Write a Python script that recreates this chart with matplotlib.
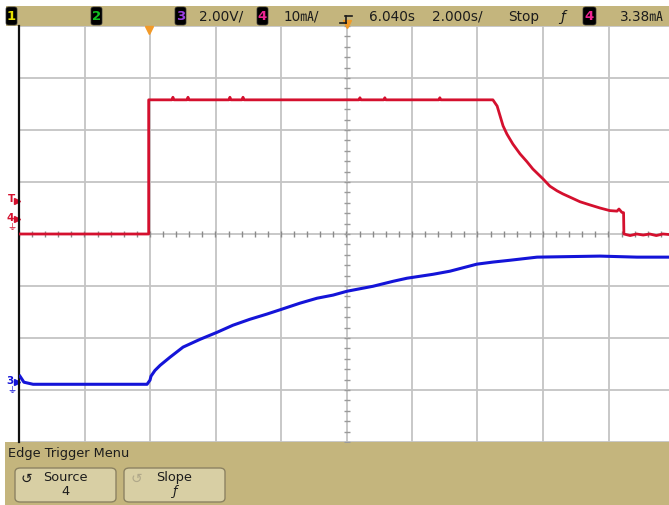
import numpy as np
import matplotlib
matplotlib.use("Agg")
import matplotlib.pyplot as plt
from matplotlib.patches import Rectangle, FancyBboxPatch
from matplotlib.transforms import blended_transform_factory

# ---------------- data ----------------
# Channel 4 (red), current in mA, time in s
ch4_t = [-3.96, 0.0, 0.0,
         0.71, 0.74, 0.77, 1.17, 1.20, 1.23, 2.45, 2.48, 2.51, 2.85, 2.88, 2.91,
         6.42, 6.45, 6.48, 7.18, 7.21, 7.24, 8.86, 8.89, 8.92,
         10.51, 10.64, 10.73, 10.82, 10.94, 11.12, 11.34, 11.55,
         11.73, 12.04, 12.25, 12.47, 12.65, 12.86, 13.17, 13.47, 13.78, 14.08, 14.30,
         14.36, 14.45, 14.50, 14.51, 14.7, 14.9, 15.1, 15.3, 15.5, 15.7, 15.89]
ch4_ma = [-2.9, -2.9, 22.9,
          22.9, 23.4, 22.9, 22.9, 23.4, 22.9, 22.9, 23.4, 22.9, 22.9, 23.4, 22.9,
          22.9, 23.3, 22.9, 22.9, 23.3, 22.9, 22.9, 23.3, 22.9,
          22.9, 21.7, 19.8, 17.9, 16.3, 14.4, 12.5, 11.0,
          9.6, 7.7, 6.3, 5.4, 4.8, 4.2, 3.3, 2.7, 2.1, 1.6, 1.5,
          1.9, 1.25, 1.2, -2.9, -3.2, -2.9, -3.1, -2.9, -3.2, -2.9, -3.0]
# Channel 3 (blue), voltage in V
ch3_t = [-3.93, -3.81, -3.53, -0.05, 0.04, 0.07, 0.19, 0.35, 0.65, 1.05, 1.57, 2.09,
         2.57, 3.09, 3.61, 4.07, 4.62, 5.14, 5.63, 6.06, 6.85, 7.46, 7.89, 8.68, 9.20,
         10.02, 10.51, 11.03, 11.86, 13.78, 14.91, 15.89]
ch3_v = [0.23, 0.0, -0.08, -0.08, 0.08, 0.23, 0.45, 0.65, 0.96, 1.35, 1.65, 1.92,
         2.19, 2.42, 2.62, 2.81, 3.04, 3.23, 3.35, 3.50, 3.69, 3.88, 4.00, 4.15, 4.27,
         4.54, 4.62, 4.69, 4.81, 4.85, 4.81, 4.81]

CH3_SCALE, CH3_OFFSET = 2.0, -2.85    # V/div, ground position in div
CH4_SCALE, CH4_OFFSET = 10.0, 0.29    # mA/div
TIME_DIV, TIME_CENTER = 2.0, 6.04     # s/div, s
TRIG_LEVEL = 3.38                     # mA

top_labels = ["2.00V/", "10㎃/", "6.040s", "2.000s/", "Stop", "3.38㎃"]
menu_title = "Edge Trigger Menu"
buttons = [("Source", "4"), ("Slope", "ƒ")]

# ---------------- figure ----------------
W, H = 669, 506
fig = plt.figure(figsize=(W / 100, H / 100), dpi=100)
fig.patch.set_facecolor("white")

def fx(x):
    return x / W

def fy(y):
    return 1 - y / H

TAN = "#c4b57d"
FONT = ["DejaVu Sans", "Noto Sans CJK JP"]
RED = "#d4102e"
BLUE = "#1414d8"

ax = fig.add_axes([fx(19), fy(443), 655 / W, 416 / H])
ax.set_zorder(1.5)
x0 = TIME_CENTER - 5 * TIME_DIV
ax.set_xlim(x0, x0 + 10 * TIME_DIV)
ax.set_ylim(-4, 4)
ax.set_xticks([x0 + k * TIME_DIV for k in range(11)])
ax.set_yticks(range(-4, 5))
ax.grid(True, color="#c4c4c4", lw=1.3)
ax.tick_params(length=0, labelbottom=False, labelleft=False)
for s in ["top", "right", "bottom"]:
    ax.spines[s].set_visible(False)
ax.spines["left"].set_color("#111111")
ax.spines["left"].set_linewidth(1.6)
ax.set_axisbelow(True)

# minor ticks on centre lines
mt = np.arange(x0, x0 + 10 * TIME_DIV + 1e-6, TIME_DIV / 5)
ax.plot(mt, np.zeros_like(mt), ls="none", marker="|", ms=5, color="#8a8a8a", mew=1)
my = np.arange(-4, 4.01, 0.2)
ax.plot(np.full_like(my, TIME_CENTER), my, ls="none", marker="_", ms=5, color="#9a9a9a", mew=1)

# traces
ax.plot(ch4_t, np.array(ch4_ma) / CH4_SCALE + CH4_OFFSET, color=RED, lw=2.0, zorder=5)
ax.plot(ch3_t, np.array(ch3_v) / CH3_SCALE + CH3_OFFSET, color=BLUE, lw=2.2, zorder=5)

# orange markers
ax.plot([0], [3.93], marker="v", color="#f29a28", ms=6, clip_on=False, zorder=6)
ax.plot([TIME_CENTER], [4.03], marker="v", color="#f29a28", ms=6, clip_on=False, zorder=6)

# left channel markers
bt = blended_transform_factory(fig.transFigure, ax.transData)
ty = TRIG_LEVEL / CH4_SCALE + CH4_OFFSET
ax.text(fx(11), ty + 0.06, "T", transform=bt, color=RED,
        fontsize=7.5, ha="center", va="center", fontweight="bold", clip_on=False)
ax.plot([fx(16.5)], [ty], marker=">", color=RED, ms=4, transform=bt, clip_on=False)
ax.text(fx(10), CH4_OFFSET + 0.04, "4", transform=bt, color=RED,
        fontsize=7.5, ha="center", va="center", fontweight="bold", clip_on=False)
ax.plot([fx(16.5)], [CH4_OFFSET], marker=">", color=RED, ms=4, transform=bt, clip_on=False)
ax.text(fx(12), CH4_OFFSET - 0.14, "⏚", transform=bt, color=RED,
        fontsize=6.5, ha="center", va="center", clip_on=False, family=FONT)
ax.text(fx(10), CH3_OFFSET + 0.04, "3", transform=bt, color=BLUE,
        fontsize=7.5, ha="center", va="center", fontweight="bold", clip_on=False)
ax.plot([fx(16.5)], [CH3_OFFSET], marker=">", color=BLUE, ms=4, transform=bt, clip_on=False)
ax.text(fx(12), CH3_OFFSET - 0.14, "⏚", transform=bt, color=BLUE,
        fontsize=6.5, ha="center", va="center", clip_on=False, family=FONT)

# ---------------- top status bar ----------------
fig.patches.append(Rectangle((fx(6), fy(27)), fx(663), 20 / H, transform=fig.transFigure,
                             facecolor=TAN, edgecolor="none", zorder=1))

def chan_box(x_left, digit, color, width=11):
    fig.patches.append(FancyBboxPatch((fx(x_left), fy(26)), width / W, 18 / H,
                                      boxstyle="round,pad=0,rounding_size=0.004",
                                      transform=fig.transFigure, facecolor="black",
                                      edgecolor="#333333", lw=0.5, zorder=2))
    fig.text(fx(x_left + width / 2), fy(17), digit, color=color, fontsize=9.5, fontweight="bold",
             ha="center", va="center", zorder=3)

chan_box(6, "1", "#e6e000")
chan_box(91, "2", "#10c020")
chan_box(175, "3", "#9a3ee0")
chan_box(257, "4", "#ec2490")
chan_box(583, "4", "#ec2490", width=13)

TXT = "#1c1c1c"
pos = [199, 284, 369, 432, 508, 620]
for x, s in zip(pos, top_labels):
    fig.text(fx(x), fy(17), s, color=TXT, fontsize=9.8, ha="left", va="center", family=FONT,
             zorder=3)
fig.text(fx(563), fy(17), "ƒ", color=TXT, fontsize=10, ha="center", va="center", zorder=3,
         style="italic")
# trigger-delay symbol
for xs, ys in [([345, 352], [17, 17]), ([346, 346], [17, 24]), ([340, 346], [24, 24])]:
    fig.lines.append(plt.Line2D([fx(v) for v in xs], [fy(v) for v in ys], color=TXT, lw=1.2,
                                transform=fig.transFigure, zorder=3))

# ---------------- bottom menu ----------------
fig.patches.append(Rectangle((fx(5), 0), fx(664), 63 / H, transform=fig.transFigure,
                             facecolor=TAN, edgecolor="none", zorder=1))
fig.text(fx(8), fy(453), menu_title, color=TXT, fontsize=9.3, ha="left", va="center", zorder=3)

btn_x = [15, 124]
for (label, val), bx in zip(buttons, btn_x):
    fig.patches.append(FancyBboxPatch((fx(bx), fy(503)), 101 / W, 34 / H,
                                      boxstyle="round,pad=0,rounding_size=0.008",
                                      transform=fig.transFigure, facecolor="#d8cfa4",
                                      edgecolor="#8c8262", lw=1.0, zorder=2))
    cx = bx + 50
    fig.text(fx(cx), fy(478), label, color=TXT, fontsize=9.3, ha="center", va="center", zorder=3)
    fig.text(fx(cx), fy(492), val, color=TXT, fontsize=9.3, ha="center", va="center", zorder=3,
             style="italic" if val == "ƒ" else "normal")

fig.text(fx(26), fy(479), "↺", color=TXT, fontsize=10, ha="center", va="center", zorder=3)
fig.text(fx(136), fy(479), "↺", color="#b0a88a", fontsize=10, ha="center", va="center", zorder=3)

fig.savefig("out.png", dpi=100)
